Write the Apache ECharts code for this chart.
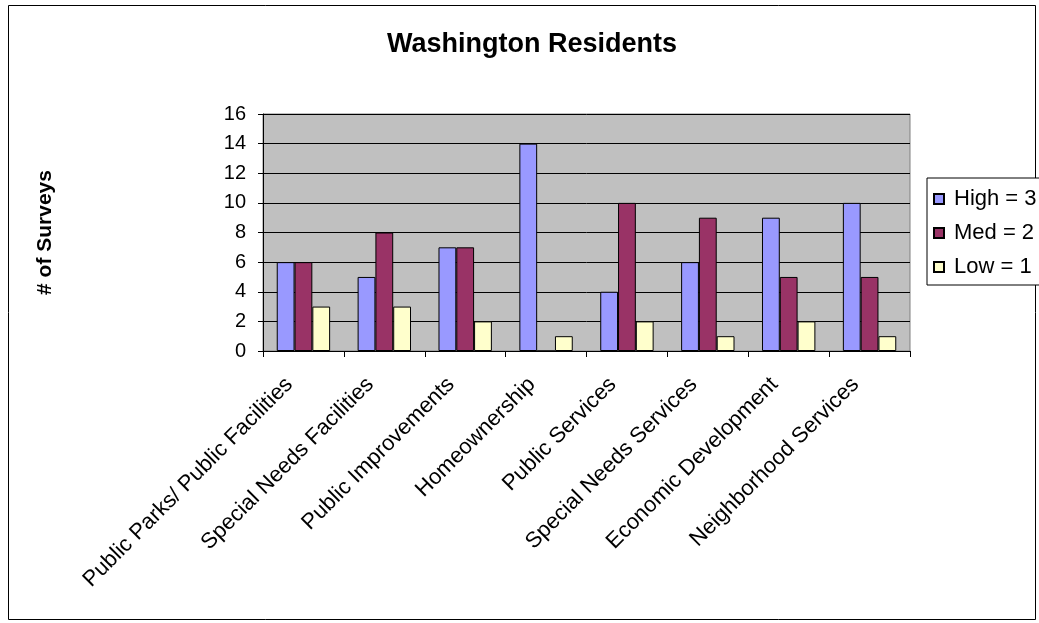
<!DOCTYPE html>
<html>
<head>
<meta charset="utf-8">
<script src="https://cdn.jsdelivr.net/npm/echarts@6/dist/echarts.min.js"></script>
<style>
html,body{margin:0;padding:0;background:#fff;}
#chart{width:1039px;height:623px;}
</style>
</head>
<body>
<div id="chart"></div>
<script>
const categories = ["Public Parks/ Public Facilities","Special Needs Facilities","Public Improvements","Homeownership","Public Services","Special Needs Services","Economic Development","Neighborhood Services"];
const seriesNames = ["High = 3","Med = 2","Low = 1"];
const highValues = [6,5,7,14,4,6,9,10];
const medValues = [6,8,7,0,10,9,5,5];
const lowValues = [3,3,2,1,2,1,2,1];
const seriesColors = ["#9999FF","#993366","#FFFFCC"];

const chart = echarts.init(document.getElementById('chart'), null, {renderer:'canvas'});
const font = "'Liberation Sans', Arial, sans-serif";
const mk = (name, data, color) => ({
  name, type:'bar', data,
  barGap: '0%', barCategoryGap: '34%',
  itemStyle:{color, borderColor:'#000', borderWidth:1},
  animation:false
});
chart.setOption({
  animation:false,
  backgroundColor:'#fff',
  textStyle:{fontFamily:font},
  title:{
    text:'Washington Residents', left:527, top:26, textAlign:'center',
    textStyle:{fontFamily:font, fontSize:27, fontWeight:'bold', color:'#000'}
  },
  graphic:[{type:'rect', shape:{x:8.5,y:5.5,width:1027,height:614}, style:{fill:'none', stroke:'#000', lineWidth:1}, silent:true, z:-10}],
  legend:{
    orient:'vertical', left:927, top:178,
    padding:[10,40,7,6], itemGap:12,
    borderColor:'#000', borderWidth:1, backgroundColor:'#fff',
    itemWidth:10, itemHeight:10, icon:'rect',
    textStyle:{fontFamily:font, fontSize:22, lineHeight:22, color:'#000', padding:[0,0,0,5]},
    data:seriesNames
  },
  grid:{left:263, right:129, top:114, bottom:272, show:true, backgroundColor:'#C0C0C0', borderColor:'#808080', borderWidth:1},
  xAxis:{
    type:'category', data:categories,
    axisLine:{lineStyle:{color:'#000', width:1}},
    axisTick:{show:true, length:6, lineStyle:{color:'#000'}},
    axisLabel:{rotate:45, interval:0, fontFamily:font, fontSize:22, color:'#000', margin:16, padding:[0,20,0,0]}
  },
  yAxis:{
    type:'value', min:0, max:16, interval:2,
    name:'# of Surveys', nameLocation:'middle', nameRotate:90, nameGap:207,
    nameTextStyle:{fontFamily:font, fontSize:21, fontWeight:'bold', color:'#000'},
    axisLine:{show:true, lineStyle:{color:'#000', width:1}},
    axisTick:{show:true, length:5, lineStyle:{color:'#000'}},
    axisLabel:{fontFamily:font, fontSize:20, color:'#000', margin:17},
    splitLine:{show:true, lineStyle:{color:'#000', width:1}}
  },
  series:[
    mk(seriesNames[0], highValues, seriesColors[0]),
    mk(seriesNames[1], medValues, seriesColors[1]),
    mk(seriesNames[2], lowValues, seriesColors[2])
  ]
});
</script>
</body>
</html>
